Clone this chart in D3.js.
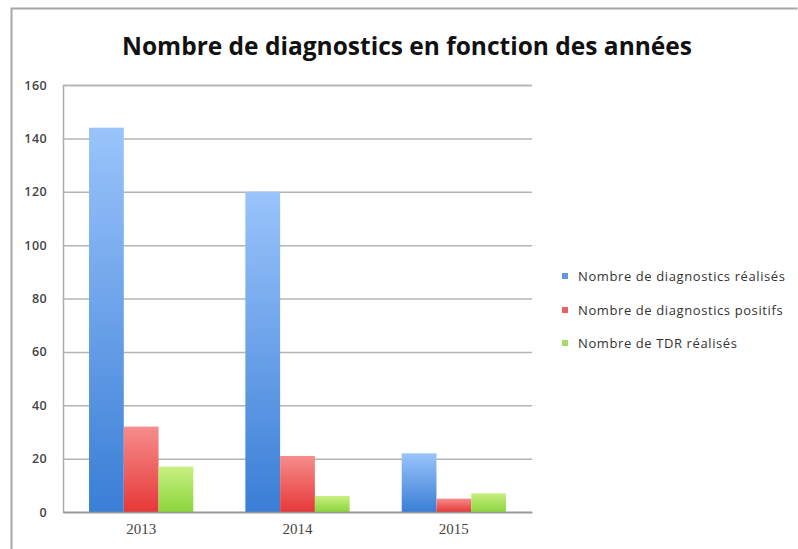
<!DOCTYPE html>
<html>
<head>
<meta charset="utf-8">
<script src="https://cdn.jsdelivr.net/npm/d3@7"></script>
<style>
  html, body { margin: 0; padding: 0; background: #fff; }
  svg { display: block; }
</style>
</head>
<body>
<svg id="chart" width="798" height="549"></svg>
<script>
// Years on the x axis
const years = ["2013", "2014", "2015"];
// Series names shown in the legend
const seriesNames = [
  "Nombre de diagnostics réalisés",
  "Nombre de diagnostics positifs",
  "Nombre de TDR réalisés"
];
// Values per series, one per year
const diagnosticsRealises = [144, 120, 22];
const diagnosticsPositifs = [32, 21, 5];
const tdrRealises = [17, 6, 7];
// Y axis ticks
const yTicks = [0, 20, 40, 60, 80, 100, 120, 140, 160];

const seriesValues = [diagnosticsRealises, diagnosticsPositifs, tdrRealises];
// light (top) and strong (bottom) colour of each series
const seriesColors = [
  ["#9ac4fb", "#3a7ed6"],
  ["#f78c8c", "#e63838"],
  ["#c8ef82", "#8cd53c"]
];

const svg = d3.select("#chart");

// frame around the chart
svg.append("path")
  .attr("d", "M11.5,560 L11.5,8.5 L797.5,8.5")
  .attr("fill", "none")
  .attr("stroke", "#a8a8a8")
  .attr("stroke-width", 2);

const plot = { left: 63, right: 532, top: 85, bottom: 512 };

const x = d3.scaleBand().domain(years).range([plot.left, plot.right]).paddingInner(0.333).paddingOuter(0.1665);
const xs = d3.scaleBand().domain(d3.range(seriesNames.length)).range([0, x.bandwidth()]);
const y = d3.scaleLinear().domain([0, 160]).range([plot.bottom, plot.top]);

// gradients
const defs = svg.append("defs");
seriesColors.forEach((c, i) => {
  const g = defs.append("linearGradient")
    .attr("id", "grad" + i)
    .attr("x1", 0).attr("y1", 0).attr("x2", 0).attr("y2", 1);
  g.append("stop").attr("offset", "0%").attr("stop-color", c[0]);
  g.append("stop").attr("offset", "100%").attr("stop-color", c[1]);
});

// horizontal gridlines
const yAxis = d3.axisLeft(y).tickValues(yTicks).tickSize(-(plot.right - plot.left)).tickPadding(16);
const gy = svg.append("g").attr("transform", `translate(${plot.left},0)`).call(yAxis);
gy.select(".domain").attr("stroke", "#aaaaaa").attr("stroke-width", 1.5);
gy.selectAll(".tick line").attr("stroke", "#b4b4b4").attr("stroke-width", 1.5);
gy.selectAll(".tick text")
  .attr("font-family", "'Open Sans', 'Noto Sans', sans-serif")
  .attr("font-size", 12.5)
  .attr("font-weight", 600)
  .attr("letter-spacing", 0.4)
  .attr("fill", "#444");

// bars
const groups = svg.append("g").selectAll("g")
  .data(years)
  .join("g")
  .attr("transform", d => `translate(${x(d)},0)`);

groups.selectAll("rect")
  .data((d, yi) => seriesValues.map((vals, si) => ({ si, v: vals[yi] })))
  .join("rect")
  .attr("x", d => xs(d.si))
  .attr("width", xs.bandwidth())
  .attr("y", d => y(d.v))
  .attr("height", d => y(0) - y(d.v))
  .attr("fill", d => `url(#grad${d.si})`);

// x axis
const xAxis = d3.axisBottom(x).tickSize(0).tickPadding(11);
const gx = svg.append("g").attr("transform", `translate(0,${plot.bottom})`).call(xAxis);
gx.select(".domain").attr("stroke", "#999").attr("stroke-width", 1.5);
gx.selectAll(".tick text")
  .attr("font-family", "'Liberation Serif', 'DejaVu Serif', serif")
  .attr("font-size", 15)
  .attr("fill", "#444");

// title
svg.append("text")
  .attr("x", 407)
  .attr("y", 55)
  .attr("text-anchor", "middle")
  .attr("font-family", "'Open Sans', sans-serif")
  .attr("font-weight", 700)
  .attr("font-size", 24.5)
  .attr("fill", "#111")
  .text("Nombre de diagnostics en fonction des années");

// legend
const legendY = [276, 310, 343];
const legend = svg.append("g").selectAll("g")
  .data(seriesNames)
  .join("g")
  .attr("transform", (d, i) => `translate(562,${legendY[i]})`);
legend.append("rect")
  .attr("x", 0).attr("y", -3)
  .attr("width", 6).attr("height", 6)
  .attr("fill", (d, i) => seriesColors[i][1])
  .attr("opacity", 0.8);
legend.append("text")
  .attr("x", 16)
  .attr("y", 4.5)
  .attr("font-family", "'Open Sans', sans-serif")
  .attr("font-size", 13)
  .attr("letter-spacing", 0.6)
  .attr("fill", "#333")
  .text(d => d);
</script>
</body>
</html>
